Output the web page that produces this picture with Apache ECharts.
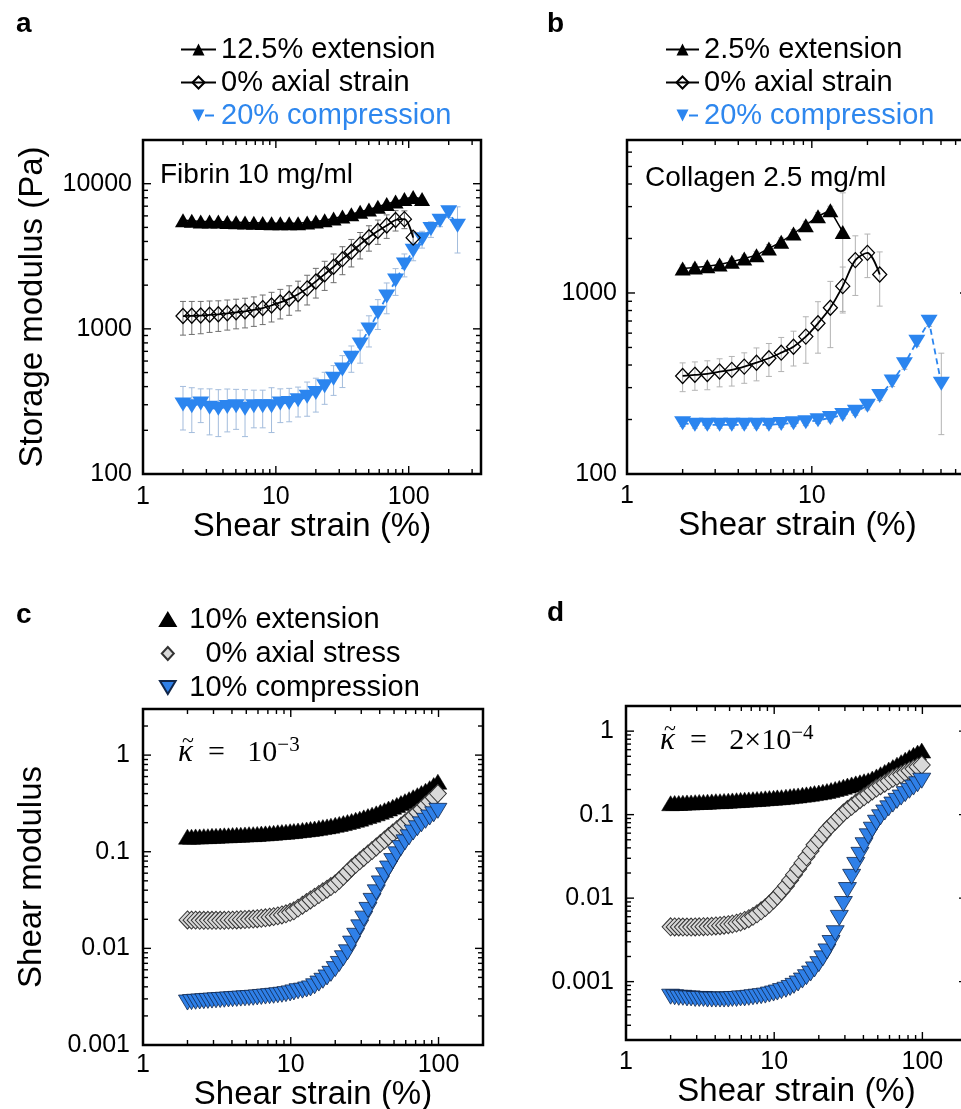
<!DOCTYPE html>
<html><head><meta charset="utf-8">
<script src="https://cdn.jsdelivr.net/npm/echarts@6/dist/echarts.min.js"></script>
<style>html,body{margin:0;padding:0;background:#fff}#c{width:961px;height:1109px}</style>
</head><body><div id="c"></div>
<script>
// ---------------- data ----------------
// shear strain (%) for panels a and b
const strainAB = [2.00,2.33,2.72,3.17,3.69,4.31,5.02,5.86,6.83,7.96,9.28,10.8,12.6,14.7,17.2,20.0,23.3,27.2,31.7,37.0,43.1,50.2,58.6,68.3,79.6,92.8,108,126,147,172,200,233];
// panel a: fibrin 10 mg/ml, storage modulus (Pa)
const fibExt  = [5600,5550,5500,5500,5480,5450,5430,5400,5380,5360,5350,5340,5340,5350,5400,5480,5600,5750,5950,6150,6400,6650,6950,7250,7550,7850,8100,7850];
const fibZero = [1225,1230,1235,1250,1260,1280,1300,1320,1350,1390,1450,1520,1610,1730,1900,2120,2380,2680,3020,3400,3820,4280,4720,5150,5620,5700,4250];
const fibZeroErr = [320,315,310,305,300,300,300,305,310,320,335,350,370,400,440,490,540,600,660,730,790,850,900,950,900,800,400];
const fibComp = [301,293,306,286,281,290,293,281,293,293,293,306,309,322,340,362,402,453,524,632,780,990,1290,1670,2150,2780,3445,4150,4865,5555,6345,5130];
const fibCompErr = [100,100,80,100,100,95,90,100,85,85,100,80,80,75,90,95,100,105,130,130,200,240,300,400,450,500,500,550,600,500,500,1800];
// panel b: collagen 2.5 mg/ml, storage modulus (Pa)
const colExt  = [1366,1384,1407,1438,1486,1551,1618,1762,1916,2131,2368,2654,2864,2175];
const colExtErr = [60,60,60,60,70,70,80,90,100,110,120,130,150,1400];
const colZero = [348,353,357,368,376,392,412,436,468,505,574,680,829,1091,1519,1666,1266];
const colZeroErr = [63,63,65,65,70,75,85,90,100,110,165,215,330,300,550,450,420];
const colComp = [191,187,187,187,187,187,187,187,189,191,193,198,204,212,221,238,270,324,404,538,694,315];
const colCompErr = [8,8,8,8,8,8,8,8,8,8,8,8,10,10,10,12,15,20,25,30,40,150];
// shear strain (%) for simulations c and d
const strainCD = [2.00,2.13,2.27,2.42,2.58,2.75,2.93,3.12,3.33,3.55,
 3.79,4.04,4.31,4.59,4.90,5.22,5.57,5.93,6.32,6.74,
 7.19,7.66,8.17,8.71,9.28,9.90,10.5,11.2,12.0,12.8,
 13.6,14.5,15.5,16.5,17.6,18.7,20.0,21.3,22.7,24.2,
 25.8,27.5,29.3,31.2,33.3,35.5,37.9,40.4,43.1,45.9,
 49.0,52.2,55.7,59.3,63.2,67.4,71.9,76.6,81.7,87.1,
 92.8,99.0];
// panel c: kappa = 1e-3, shear modulus
const simCExt = [0.143,0.143,0.144,0.144,0.145,0.145,0.146,0.146,0.147,0.148,
 0.148,0.149,0.150,0.150,0.151,0.152,0.152,0.153,0.154,0.155,
 0.156,0.157,0.159,0.160,0.161,0.163,0.164,0.166,0.168,0.170,
 0.172,0.174,0.177,0.180,0.183,0.186,0.190,0.194,0.198,0.203,
 0.208,0.214,0.220,0.227,0.234,0.242,0.250,0.259,0.269,0.280,
 0.292,0.305,0.319,0.334,0.350,0.367,0.385,0.405,0.428,0.455,
 0.490,0.530];
const simCZero = [0.0197,0.0196,0.0196,0.0195,0.0195,0.0195,0.0195,0.0195,0.0195,0.0195,
 0.0196,0.0196,0.0197,0.0198,0.0199,0.0200,0.0201,0.0203,0.0205,0.0207,
 0.0210,0.0213,0.0217,0.0222,0.0228,0.0236,0.0245,0.0261,0.0280,0.0298,
 0.0317,0.0338,0.0361,0.0385,0.0410,0.0436,0.0466,0.0506,0.0557,0.0614,
 0.0680,0.0740,0.0804,0.0872,0.0950,0.103,0.112,0.122,0.132,0.144,
 0.156,0.169,0.184,0.199,0.216,0.235,0.255,0.276,0.305,0.333,
 0.365,0.400];
const simCComp = [0.00275,0.00278,0.00280,0.00282,0.00284,0.00286,0.00288,0.00290,0.00292,0.00294,
 0.00296,0.00298,0.00300,0.00302,0.00304,0.00306,0.00308,0.00311,0.00314,0.00317,
 0.00320,0.00323,0.00327,0.00331,0.00336,0.00342,0.00350,0.00360,0.00365,0.00375,
 0.00385,0.00405,0.00432,0.00462,0.00500,0.00545,0.00610,0.00690,0.00790,0.00910,
 0.0112,0.0135,0.0165,0.0203,0.0250,0.0310,0.0380,0.0470,0.0570,0.0670,
 0.0800,0.0940,0.109,0.125,0.141,0.158,0.175,0.192,0.209,0.226,
 0.244,0.265];
// panel d: kappa = 2e-4, shear modulus
const simDExt = [0.137,0.138,0.138,0.139,0.140,0.140,0.141,0.142,0.142,0.143,
 0.144,0.145,0.145,0.146,0.147,0.148,0.149,0.150,0.151,0.152,
 0.153,0.154,0.155,0.157,0.158,0.159,0.161,0.162,0.164,0.166,
 0.168,0.170,0.173,0.175,0.178,0.181,0.184,0.188,0.192,0.197,
 0.203,0.209,0.216,0.223,0.230,0.237,0.244,0.251,0.258,0.271,
 0.287,0.305,0.325,0.347,0.371,0.397,0.425,0.455,0.487,0.520,
 0.553,0.585];
const simDZero = [0.00453,0.00452,0.00452,0.00451,0.00451,0.00451,0.00452,0.00453,0.00455,0.00457,
 0.00460,0.00464,0.00468,0.00474,0.00481,0.00490,0.00502,0.00518,0.00540,0.00568,
 0.00605,0.00650,0.00705,0.00770,0.00850,0.00950,0.0106,0.0121,0.0140,
 0.0164,0.0191,0.0224,0.0264,0.0312,0.0368,0.0435,0.0500,0.0576,0.0663,
 0.0744,0.0835,0.0937,0.105,0.115,0.126,0.138,0.151,0.1635,0.177,
 0.192,0.208,0.222,0.238,0.254,0.272,0.287,0.302,0.319,0.336,0.354,0.373,0.393];
const simDComp = [0.00066,0.00065,0.00064,0.00064,0.00063,0.00063,0.00062,0.00062,0.00062,0.00061,
 0.00061,0.00061,0.00061,0.00061,0.00061,0.00062,0.00062,0.00063,0.00063,0.00064,
 0.00065,0.00066,0.00067,0.00068,0.00070,0.00072,0.00074,0.00077,0.00080,0.00084,
 0.00089,0.00095,0.00103,0.00113,0.00125,0.00140,0.00162,0.00190,0.00230,0.00290,
 0.00380,0.00580,0.00850,0.0125,0.0180,0.0250,0.0330,0.0430,0.0550,0.0660,
 0.0800,0.0930,0.106,0.119,0.132,0.146,0.160,0.176,0.193,0.211,
 0.231,0.255];
// tick labels
const xTickVals = [1, 10, 100];
const xTickText = ['1', '10', '100'];
const yTickValsA = [100, 1000, 10000];
const yTickTextA = ['100', '1000', '10000'];
const yTickValsB = [100, 1000];
const yTickTextB = ['100', '1000'];
const yTickValsCD = [0.001, 0.01, 0.1, 1];
const yTickTextCD = ['0.001', '0.01', '0.1', '1'];

// ---------------- styling / helpers ----------------
const FONT = '"Liberation Sans", Arial, Helvetica, sans-serif';
const SERIF = '"Liberation Serif", "Times New Roman", serif';
const BLUE = '#2b85ef';
const BLUE_TXT = '#2e87ee';
const BLUE_SIM = '#2f80e8';
const TRI = 'path://M0,10L6,0L12,10Z';
const INV = 'path://M0,0L12,0L6,10Z';
const DIA = 'path://M6,0L12,6.5L6,13L0,6.5Z';

function pairs(xs, ys) { return ys.map((y, i) => [xs[i], y]); }
function fmt(vals, texts) {
  return function (v) {
    for (let i = 0; i < vals.length; i++) {
      if (Math.abs(Math.log10(v) - Math.log10(vals[i])) < 1e-6) return texts[i];
    }
    return '';
  };
}
function logTicks(min, max) {
  const out = [];
  for (let e = Math.floor(Math.log10(min)) - 1; e <= Math.ceil(Math.log10(max)); e++) {
    for (let k = 1; k <= 9; k++) {
      const v = k * Math.pow(10, e);
      if (v > min * 1.0001 && v < max * 0.9999) out.push(v);
    }
  }
  return out;
}
function tickSeries(gi, xr, yr) {
  const data = logTicks(xr[0], xr[1]).map(v => [v, yr[0] * 1.5, 0])
    .concat(logTicks(yr[0], yr[1]).map(v => [xr[0] * 1.5, v, 1]));
  return {
    type: 'custom', xAxisIndex: gi, yAxisIndex: gi, silent: true, z: 6, clip: false,
    encode: { x: 0, y: 1 }, data,
    renderItem(params, api) {
      const cs = params.coordSys;
      const kind = api.value(2);
      const v = kind === 0 ? api.value(0) : api.value(1);
      const lg = Math.log10(v);
      const major = Math.abs(lg - Math.round(lg)) < 1e-6;
      const L = major ? 8 : 5;
      const pt = api.coord([api.value(0), api.value(1)]);
      const style = { stroke: '#000', lineWidth: 1.4 };
      if (kind === 0) {
        const x = pt[0], yb = cs.y + cs.height, yt = cs.y;
        return { type: 'group', children: [
          { type: 'line', shape: { x1: x, y1: yb, x2: x, y2: yb - L }, style },
          { type: 'line', shape: { x1: x, y1: yt, x2: x, y2: yt + L }, style }] };
      }
      const y = pt[1], xl = cs.x, xrr = cs.x + cs.width;
      return { type: 'group', children: [
        { type: 'line', shape: { x1: xl, y1: y, x2: xl + L, y2: y }, style },
        { type: 'line', shape: { x1: xrr, y1: y, x2: xrr - L, y2: y }, style }] };
    }
  };
}
function errSeries(gi, xs, ys, es, color) {
  const data = ys.map((y, i) => [xs[i], y, es[i]]);
  return {
    type: 'custom', xAxisIndex: gi, yAxisIndex: gi, silent: true, z: 1,
    encode: { x: 0, y: 1 }, data,
    renderItem(params, api) {
      const x = api.value(0), y = api.value(1), e = api.value(2);
      const top = api.coord([x, y + e]);
      const bot = api.coord([x, Math.max(y - e, y * 0.05)]);
      const hw = 3;
      const style = { stroke: color, lineWidth: 1 };
      return { type: 'group', children: [
        { type: 'line', shape: { x1: top[0], y1: top[1], x2: bot[0], y2: bot[1] }, style },
        { type: 'line', shape: { x1: top[0] - hw, y1: top[1], x2: top[0] + hw, y2: top[1] }, style },
        { type: 'line', shape: { x1: bot[0] - hw, y1: bot[1], x2: bot[0] + hw, y2: bot[1] }, style }] };
    }
  };
}
function gridCfg(left, top, width, height) {
  return { left, top, width, height, show: true, borderColor: '#000', borderWidth: 2.5,
    backgroundColor: 'transparent', containLabel: false, outerBoundsMode: 'none' };
}
function xAxisCfg(gi, max, margin, nameGap) {
  return {
    type: 'log', logBase: 10, gridIndex: gi, min: 1, max,
    axisLine: { show: false }, axisTick: { show: false }, splitLine: { show: false },
    axisLabel: { formatter: fmt(xTickVals, xTickText), fontSize: 25, color: '#000', fontFamily: FONT,
      margin, showMinLabel: true, showMaxLabel: true },
    name: 'Shear strain (%)', nameLocation: 'middle', nameGap,
    nameTextStyle: { fontSize: 33, color: '#000', fontFamily: FONT, lineHeight: 33 }
  };
}
function yAxisCfg(gi, min, max, vals, texts, margin, name, nameGap) {
  const cfg = {
    type: 'log', logBase: 10, gridIndex: gi, min, max,
    axisLine: { show: false }, axisTick: { show: false }, splitLine: { show: false },
    axisLabel: { formatter: fmt(vals, texts), fontSize: 25, color: '#000', fontFamily: FONT,
      margin, showMinLabel: true, showMaxLabel: true }
  };
  if (name) {
    cfg.name = name; cfg.nameLocation = 'middle'; cfg.nameGap = nameGap; cfg.nameRotate = 90;
    cfg.nameTextStyle = { fontSize: 33, color: '#000', fontFamily: FONT, lineHeight: 33 };
  }
  return cfg;
}

const xr = [[1, 350], [1, 70], [1, 200], [1, 200]];
const yr = [[100, 20000], [100, 7000], [0.001, 3], [0.0002, 2]];

const legendText = { fontSize: 29, lineHeight: 28, color: '#000', fontFamily: FONT };
const kRich = {
  k: { fontFamily: SERIF, fontStyle: 'italic', fontSize: 31, lineHeight: 36 },
  t: { fontFamily: SERIF, fontSize: 30, lineHeight: 36 },
  s: { fontFamily: SERIF, fontSize: 21, lineHeight: 18, verticalAlign: 'top' }
};
const tildeStyle = { text: '~', fontFamily: SERIF, fontSize: 22, fill: '#000', align: 'center', verticalAlign: 'middle' };

const option = {
  animation: false,
  backgroundColor: '#fff',
  textStyle: { fontFamily: FONT },
  grid: [
    gridCfg(143, 140, 338, 334),
    gridCfg(627, 140, 341, 334),
    gridCfg(143, 709, 340, 336),
    gridCfg(626, 706, 341, 334)
  ],
  xAxis: [
    xAxisCfg(0, xr[0][1], 11, 25),
    xAxisCfg(1, xr[1][1], 10, 25),
    xAxisCfg(2, xr[2][1], 8, 30),
    xAxisCfg(3, xr[3][1], 10, 27)
  ],
  yAxis: [
    yAxisCfg(0, yr[0][0], yr[0][1], yTickValsA, yTickTextA, 11, 'Storage modulus (Pa)', 94),
    yAxisCfg(1, yr[1][0], yr[1][1], yTickValsB, yTickTextB, 10),
    yAxisCfg(2, yr[2][0], yr[2][1], yTickValsCD, yTickTextCD, 13, 'Shear modulus', 95),
    yAxisCfg(3, yr[3][0], yr[3][1], yTickValsCD, yTickTextCD, 12)
  ],
  legend: [
    { orient: 'vertical', left: 175, top: 30, itemWidth: 35, itemHeight: 15, itemGap: 4,
      selectedMode: false, symbolKeepAspect: true, textStyle: legendText,
      data: [{ name: '12.5% extension' }, { name: '0% axial strain' },
        { name: '20% compression', textStyle: { color: BLUE_TXT }, lineStyle: { type: [0, 24, 9, 100] } }] },
    { orient: 'vertical', left: 660, top: 30, itemWidth: 33, itemHeight: 15, itemGap: 4,
      selectedMode: false, symbolKeepAspect: true, textStyle: legendText,
      data: [{ name: '2.5% extension' }, { name: '0% axial strain' },
        { name: '20% compression', textStyle: { color: BLUE_TXT }, lineStyle: { type: [0, 23, 9, 100] } }] },
    { orient: 'vertical', left: 154, top: 600, itemWidth: 33, itemHeight: 13, itemGap: 5,
      selectedMode: false, symbolKeepAspect: true, textStyle: legendText,
      formatter: n => (n === '0% axial stress' ? '  0% axial stress' : n),
      data: [{ name: '10% extension' }, { name: '0% axial stress' }, { name: '10% compression' }] }
  ],
  graphic: [
    { type: 'text', x: 16, y: 24, style: { text: 'a', fontSize: 28, fontWeight: 'bold', fontFamily: FONT, fill: '#000', verticalAlign: 'middle' } },
    { type: 'text', x: 547, y: 24, style: { text: 'b', fontSize: 28, fontWeight: 'bold', fontFamily: FONT, fill: '#000', verticalAlign: 'middle' } },
    { type: 'text', x: 16, y: 615, style: { text: 'c', fontSize: 28, fontWeight: 'bold', fontFamily: FONT, fill: '#000', verticalAlign: 'middle' } },
    { type: 'text', x: 547, y: 613, style: { text: 'd', fontSize: 28, fontWeight: 'bold', fontFamily: FONT, fill: '#000', verticalAlign: 'middle' } },
    { type: 'text', x: 160, y: 175, style: { text: 'Fibrin 10 mg/ml', fontSize: 28, fontFamily: FONT, fill: '#000', verticalAlign: 'middle' } },
    { type: 'text', x: 645, y: 178, style: { text: 'Collagen 2.5 mg/ml', fontSize: 28, fontFamily: FONT, fill: '#000', verticalAlign: 'middle' } },
    { type: 'text', x: 178, y: 735, style: { text: '{k|κ}{t|  =   10}{s|−3}', fill: '#000', verticalAlign: 'top', rich: kRich } },
    { type: 'text', x: 188, y: 741, style: tildeStyle },
    { type: 'text', x: 660, y: 723, style: { text: '{k|κ}{t|  =   2×10}{s|−4}', fill: '#000', verticalAlign: 'top', rich: kRich } },
    { type: 'text', x: 670, y: 729, style: tildeStyle }
  ],
  series: [
    // panel a
    errSeries(0, strainAB, fibZero, fibZeroErr, '#6e6e6e'),
    errSeries(0, strainAB, fibComp, fibCompErr, '#a3bcdc'),
    { name: '20% compression', type: 'line', xAxisIndex: 0, yAxisIndex: 0, data: pairs(strainAB, fibComp),
      symbol: INV, symbolSize: [17, 14], itemStyle: { color: BLUE }, lineStyle: { color: BLUE, width: 1.8, type: [6, 4] }, z: 3 },
    { name: '0% axial strain', type: 'line', xAxisIndex: 0, yAxisIndex: 0, data: pairs(strainAB, fibZero), smooth: 0.3,
      symbol: DIA, symbolSize: [14, 15], itemStyle: { color: 'rgba(255,255,255,0)', borderColor: '#000', borderWidth: 1.3 },
      lineStyle: { color: '#000', width: 1.8 }, z: 3 },
    { name: '12.5% extension', type: 'line', xAxisIndex: 0, yAxisIndex: 0, data: pairs(strainAB, fibExt),
      symbol: TRI, symbolSize: [16, 14], itemStyle: { color: '#000' }, lineStyle: { color: '#000', width: 1.5 }, z: 3 },
    // panel b
    errSeries(1, strainAB, colExt, colExtErr, '#b3b3b3'),
    errSeries(1, strainAB, colZero, colZeroErr, '#b3b3b3'),
    errSeries(1, strainAB, colComp, colCompErr, '#b3b3b3'),
    { name: '20% compression', type: 'line', xAxisIndex: 1, yAxisIndex: 1, data: pairs(strainAB, colComp),
      symbol: INV, symbolSize: [17, 14], itemStyle: { color: BLUE }, lineStyle: { color: BLUE, width: 1.8, type: [6, 4] }, z: 3 },
    { name: '0% axial strain', type: 'line', xAxisIndex: 1, yAxisIndex: 1, data: pairs(strainAB, colZero), smooth: 0.3,
      symbol: DIA, symbolSize: [14, 15], itemStyle: { color: 'rgba(255,255,255,0)', borderColor: '#000', borderWidth: 1.3 },
      lineStyle: { color: '#000', width: 1.8 }, z: 3 },
    { name: '2.5% extension', type: 'line', xAxisIndex: 1, yAxisIndex: 1, data: pairs(strainAB, colExt),
      symbol: TRI, symbolSize: [16, 14], itemStyle: { color: '#000' }, lineStyle: { color: '#000', width: 1.5 }, z: 3 },
    // panel c
    { name: '10% extension', type: 'scatter', xAxisIndex: 2, yAxisIndex: 2, data: pairs(strainCD, simCExt),
      symbol: TRI, symbolSize: [18, 15], itemStyle: { color: '#000', borderColor: '#000', borderWidth: 0.5, opacity: 1 }, z: 3 },
    { name: '0% axial stress', type: 'scatter', xAxisIndex: 2, yAxisIndex: 2, data: pairs(strainCD, simCZero),
      symbol: DIA, symbolSize: [17, 18], itemStyle: { color: '#d9d9d9', borderColor: '#333', borderWidth: 1, opacity: 1 }, z: 3 },
    { name: '10% compression', type: 'scatter', xAxisIndex: 2, yAxisIndex: 2, data: pairs(strainCD, simCComp),
      symbol: INV, symbolSize: [18, 15], itemStyle: { color: BLUE_SIM, borderColor: '#10264a', borderWidth: 0.8, opacity: 1 }, z: 3 },
    // panel d
    { name: 'd 10% extension', type: 'scatter', xAxisIndex: 3, yAxisIndex: 3, data: pairs(strainCD, simDExt),
      symbol: TRI, symbolSize: [18, 15], itemStyle: { color: '#000', borderColor: '#000', borderWidth: 0.5, opacity: 1 }, z: 3 },
    { name: 'd 0% axial stress', type: 'scatter', xAxisIndex: 3, yAxisIndex: 3, data: pairs(strainCD, simDZero),
      symbol: DIA, symbolSize: [17, 18], itemStyle: { color: '#d9d9d9', borderColor: '#333', borderWidth: 1, opacity: 1 }, z: 3 },
    { name: 'd 10% compression', type: 'scatter', xAxisIndex: 3, yAxisIndex: 3, data: pairs(strainCD, simDComp),
      symbol: INV, symbolSize: [18, 15], itemStyle: { color: BLUE_SIM, borderColor: '#10264a', borderWidth: 0.8, opacity: 1 }, z: 3 },
    // ticks (all four sides, major and minor)
    tickSeries(0, xr[0], yr[0]),
    tickSeries(1, xr[1], yr[1]),
    tickSeries(2, xr[2], yr[2]),
    tickSeries(3, xr[3], yr[3])
  ]
};

const chart = echarts.init(document.getElementById('c'), null, { renderer: 'canvas' });
chart.setOption(option);
</script>
</body></html>
